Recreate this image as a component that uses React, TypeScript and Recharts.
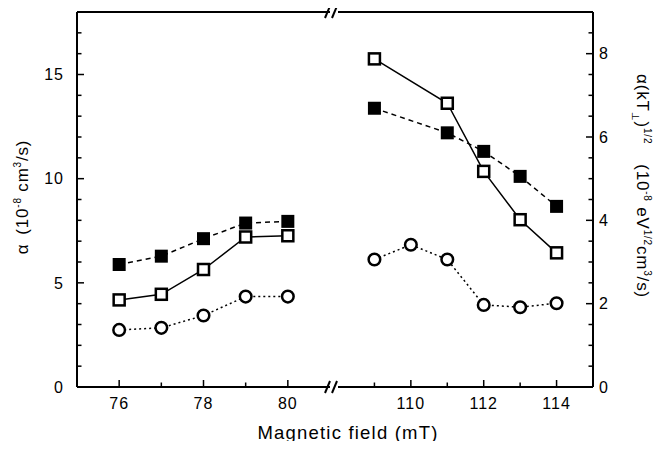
import React from "react";
import { LineChart, Line, XAxis, YAxis, ReferenceLine } from "recharts";

// Recombination coefficient vs magnetic field, broken x axis (two panels).

const FONT = "'Liberation Sans', Arial, Helvetica, sans-serif";

// low-field branch
const lowField = [76, 77, 78, 79, 80];
const lowFilled = [5.88, 6.28, 7.12, 7.87, 7.95];
const lowOpen = [4.18, 4.45, 5.64, 7.2, 7.26];
const lowCircle = [2.74, 2.84, 3.43, 4.34, 4.34];

// high-field branch
const highFieldSq = [109, 111, 112, 113, 114];
const highFilled = [13.38, 12.2, 11.31, 10.11, 8.67];
const highOpen = [15.75, 13.62, 10.35, 8.03, 6.44];
const highFieldCirc = [109, 110, 111, 112, 113, 114];
const highCircle = [6.12, 6.83, 6.12, 3.94, 3.83, 4.02];

// ticks
const lowTicks = [76, 77, 78, 79, 80];
const highTicks = [109, 110, 111, 112, 113, 114];
const yTicks = [0, 1, 2, 3, 4, 5, 6, 7, 8, 9, 10, 11, 12, 13, 14, 15, 16, 17, 18];

const rows = (xs: number[], vs: number[]) => xs.map((b, i) => ({ b, v: vs[i] }));

const TICK_TEXT = { fontFamily: FONT, fontSize: 16, fill: "#000", letterSpacing: 1 };

function BottomTick(props: any) {
  const { x, y, payload } = props;
  const major = payload.value % 2 === 0;
  return (
    <g>
      <line x1={x} x2={x} y1={y} y2={y - (major ? 7 : 4.5)} stroke="#000" strokeWidth={1.5} />
      {major && (
        <text x={x} y={y + 22} textAnchor="middle" {...TICK_TEXT}>
          {payload.value}
        </text>
      )}
    </g>
  );
}

function LeftTick(props: any) {
  const { x, y, payload } = props;
  const major = payload.value % 5 === 0;
  return (
    <g>
      <line x1={x} x2={x + (major ? 7 : 4.5)} y1={y} y2={y} stroke="#000" strokeWidth={1.5} />
      {major && (
        <text x={x - 13} y={y} dy="0.36em" textAnchor="end" {...TICK_TEXT}>
          {payload.value}
        </text>
      )}
    </g>
  );
}

// right scale is half of the left one
function RightTick(props: any) {
  const { x, y, payload } = props;
  const major = payload.value % 4 === 0;
  return (
    <g>
      <line x1={x} x2={x - (major ? 7 : 4.5)} y1={y} y2={y} stroke="#000" strokeWidth={1.5} />
      {major && (
        <text x={x + 6} y={y} dy="0.36em" textAnchor="start" {...TICK_TEXT}>
          {payload.value / 2}
        </text>
      )}
    </g>
  );
}

const filledSquare = (p: any) => (
  <rect key={p.index} x={p.cx - 6.5} y={p.cy - 6.5} width={13} height={13} fill="#000" />
);
const openSquare = (p: any) => (
  <rect key={p.index} x={p.cx - 5.5} y={p.cy - 5.5} width={11} height={11} fill="#fff" stroke="#000" strokeWidth={2.5} />
);
const openCircle = (p: any) => (
  <circle key={p.index} cx={p.cx} cy={p.cy} r={5.8} fill="#fff" stroke="#000" strokeWidth={2.5} />
);

const AXIS_LINE = { stroke: "#000", strokeWidth: 2 };

export default function App() {
  return (
    <div style={{ position: "relative", width: 672, height: 449, background: "#fff", margin: -8 }}>
      <div style={{ position: "absolute", left: 0, top: 0 }}>
        <LineChart width={330} height={449} margin={{ top: 12, right: 0, bottom: 0, left: 0 }}>
          <XAxis
            type="number"
            dataKey="b"
            domain={[75, 81]}
            allowDataOverflow
            ticks={lowTicks}
            interval={0}
            height={62}
            tickSize={0}
            tickMargin={0}
            tick={BottomTick}
            axisLine={AXIS_LINE}
          />
          <YAxis
            type="number"
            domain={[0, 18]}
            allowDataOverflow
            ticks={yTicks}
            interval={0}
            width={77}
            tickSize={0}
            tickMargin={0}
            tick={LeftTick}
            axisLine={AXIS_LINE}
          />
          <ReferenceLine y={18} stroke="#000" strokeWidth={2} />
          <Line data={rows(lowField, lowCircle)} dataKey="v" stroke="#000" strokeWidth={1.5} strokeDasharray="2 3" dot={openCircle} activeDot={false} isAnimationActive={false} />
          <Line data={rows(lowField, lowFilled)} dataKey="v" stroke="#000" strokeWidth={1.5} strokeDasharray="5 4" dot={filledSquare} activeDot={false} isAnimationActive={false} />
          <Line data={rows(lowField, lowOpen)} dataKey="v" stroke="#000" strokeWidth={1.5} dot={openSquare} activeDot={false} isAnimationActive={false} />
        </LineChart>
      </div>
      <div style={{ position: "absolute", left: 338, top: 0 }}>
        <LineChart width={334} height={449} margin={{ top: 12, right: 0, bottom: 0, left: 0 }}>
          <XAxis
            type="number"
            dataKey="b"
            domain={[108, 115]}
            allowDataOverflow
            ticks={highTicks}
            interval={0}
            height={62}
            tickSize={0}
            tickMargin={0}
            tick={BottomTick}
            axisLine={AXIS_LINE}
          />
          <YAxis
            orientation="right"
            type="number"
            domain={[0, 18]}
            allowDataOverflow
            ticks={yTicks}
            interval={0}
            width={79}
            tickSize={0}
            tickMargin={0}
            tick={RightTick}
            axisLine={AXIS_LINE}
          />
          <ReferenceLine y={18} stroke="#000" strokeWidth={2} />
          <Line data={rows(highFieldCirc, highCircle)} dataKey="v" stroke="#000" strokeWidth={1.5} strokeDasharray="2 3" dot={openCircle} activeDot={false} isAnimationActive={false} />
          <Line data={rows(highFieldSq, highFilled)} dataKey="v" stroke="#000" strokeWidth={1.5} strokeDasharray="5 4" dot={filledSquare} activeDot={false} isAnimationActive={false} />
          <Line data={rows(highFieldSq, highOpen)} dataKey="v" stroke="#000" strokeWidth={1.5} dot={openSquare} activeDot={false} isAnimationActive={false} />
        </LineChart>
      </div>
      {/* axis break marks and axis titles */}
      <svg width={672} height={449} style={{ position: "absolute", left: 0, top: 0, pointerEvents: "none" }}>
        <g stroke="#000" strokeWidth={2}>
          <line x1={325} y1={18} x2={330} y2={6} />
          <line x1={332} y1={18} x2={337} y2={6} />
          <line x1={325} y1={393} x2={330} y2={381} />
          <line x1={332} y1={393} x2={337} y2={381} />
        </g>
        <text x={348} y={439} textAnchor="middle" fontFamily={FONT} fontSize={18.5} letterSpacing={1.2} fill="#000">
          Magnetic field (mT)
        </text>
        <text transform="translate(28 197) rotate(-90)" textAnchor="middle" fontFamily={FONT} fontSize={17} letterSpacing={0.8} fill="#000">
          α<tspan dx={9}>(10</tspan>
          <tspan dy={-7} fontSize={10}>-8</tspan>
          <tspan dy={7}> cm</tspan>
          <tspan dy={-7} fontSize={10}>3</tspan>
          <tspan dy={7}>/s)</tspan>
        </text>
        <text transform="translate(637 186) rotate(90)" textAnchor="middle" fontFamily={FONT} fontSize={17} letterSpacing={0.8} fill="#000">
          α(kT<tspan dy={5} fontSize={10}>⊥</tspan>
          <tspan dy={-5}>)</tspan>
          <tspan dy={-7} fontSize={10}>1/2</tspan>
          <tspan dy={7} dx={20}>(10</tspan>
          <tspan dy={-7} fontSize={10}>-8</tspan>
          <tspan dy={7}> eV</tspan>
          <tspan dy={-7} fontSize={10}>1/2</tspan>
          <tspan dy={7}>cm</tspan>
          <tspan dy={-7} fontSize={10}>3</tspan>
          <tspan dy={7}>/s)</tspan>
        </text>
      </svg>
    </div>
  );
}
